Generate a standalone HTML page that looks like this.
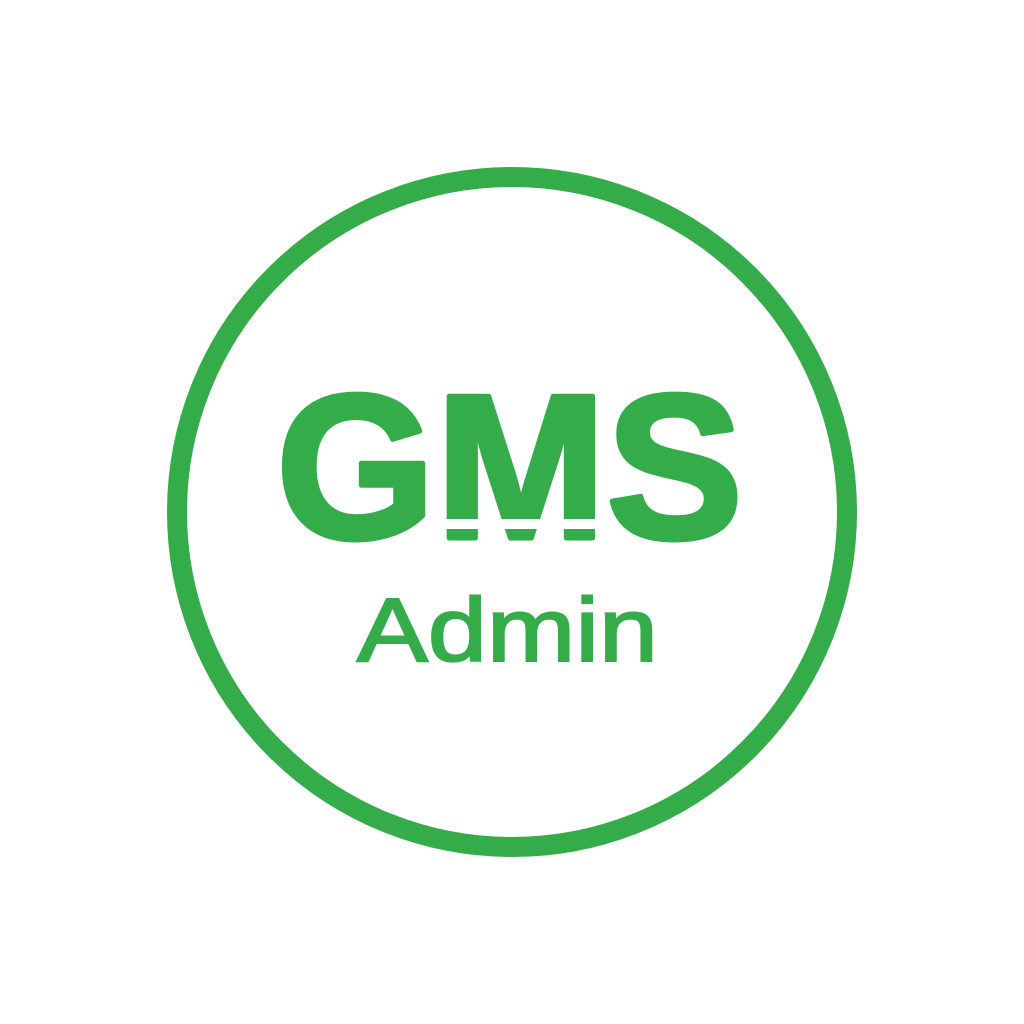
<!DOCTYPE html>
<html><head><meta charset="utf-8"><style>html,body{margin:0;padding:0;background:#fff;width:1024px;height:1024px;overflow:hidden}</style></head>
<body>
<svg width="1024" height="1024" viewBox="0 0 1024 1024" xmlns="http://www.w3.org/2000/svg">
<rect width="1024" height="1024" fill="#fff"/>
<circle cx="512" cy="512" r="335" fill="none" stroke="#34ac4a" stroke-width="20"/>
<text x="276" y="538" textLength="467" lengthAdjust="spacingAndGlyphs" font-family="Liberation Sans, sans-serif" font-weight="bold" font-size="206" fill="#34ac4a" stroke="#34ac4a" stroke-width="5" stroke-linejoin="round">GMS</text>
<rect x="444" y="519" width="170" height="10" fill="#fff"/>
<text x="357" y="661" textLength="301" lengthAdjust="spacingAndGlyphs" font-family="Liberation Sans, sans-serif" font-size="90" fill="#34ac4a" stroke="#34ac4a" stroke-width="2">Admin</text>
</svg>
</body></html>
